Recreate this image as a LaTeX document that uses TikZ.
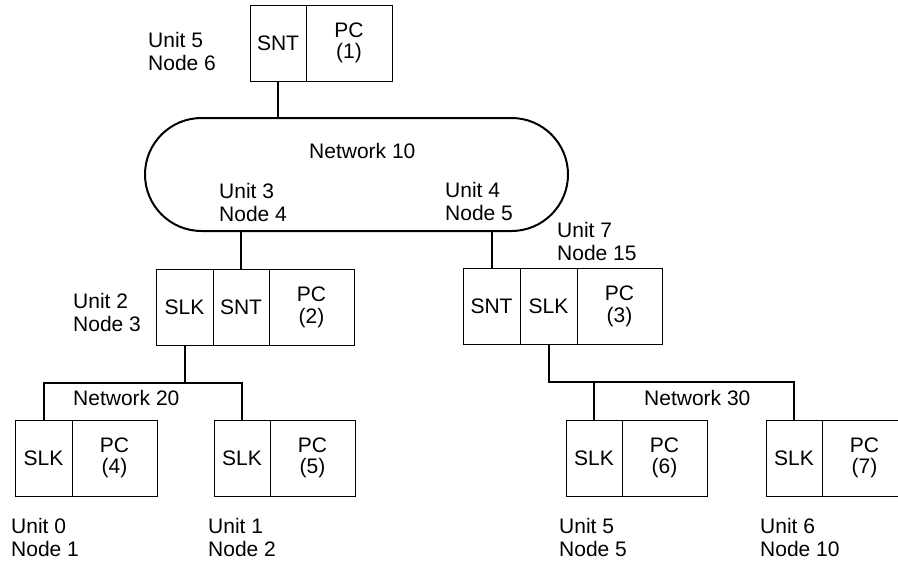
\documentclass[tikz,border=0pt]{standalone}
\usepackage{fontspec}
\setmainfont{Liberation Sans}
\usetikzlibrary{shapes.misc}
\begin{document}
\begin{tikzpicture}[x=1pt,y=-1pt,
  cell/.style={draw,line width=0.9pt,inner sep=0,minimum height=76,align=center,font=\fontsize{21}{21.5}\selectfont},
  lbl/.style={anchor=north west,inner sep=0,align=left,font=\fontsize{21}{23.5}\selectfont},
  conn/.style={line width=2pt}]
\useasboundingbox (0,0) rectangle (898,562);
% top
\node[cell,minimum width=56] (snt1) at (278,43) {SNT};
\node[cell,minimum width=86] (pc1) at (349,43) {PC\\(1)};
% network 10
\node[draw,rounded rectangle,line width=2pt,minimum width=423,minimum height=113,inner sep=0] (net10) at (356.5,174.5) {};
% box 2
\node[cell,minimum width=57] (slk2) at (184.5,307.5) {SLK};
\node[cell,minimum width=56] (snt2) at (241,307.5) {SNT};
\node[cell,minimum width=85] (pc2) at (311.5,307.5) {PC\\(2)};
% box 3
\node[cell,minimum width=57] (snt3) at (491.5,306.5) {SNT};
\node[cell,minimum width=57] (slk3) at (548.5,306.5) {SLK};
\node[cell,minimum width=85] (pc3) at (619.5,306.5) {PC\\(3)};
% bottom boxes
\node[cell,minimum width=57] (slk4) at (43.5,458) {SLK};
\node[cell,minimum width=85] (pc4) at (114.5,458) {PC\\(4)};
\node[cell,minimum width=56] (slk5) at (242,458) {SLK};
\node[cell,minimum width=85] (pc5) at (312.5,458) {PC\\(5)};
\node[cell,minimum width=56] (slk6) at (594,458) {SLK};
\node[cell,minimum width=85] (pc6) at (664.5,458) {PC\\(6)};
\node[cell,minimum width=56] (slk7) at (794,458) {SLK};
\node[cell,minimum width=85] (pc7) at (864.5,458) {PC\\(7)};
% labels
\node[lbl] (u5n6) at (148,32) {Unit 5\\Node 6};
\node[lbl] (n10) at (309,143) {Network 10};
\node[lbl] (u3n4) at (219,183) {Unit 3\\Node 4};
\node[lbl] (u4n5) at (445,182) {Unit 4\\Node 5};
\node[lbl] (u7n15) at (557,222) {Unit 7\\Node 15};
\node[lbl] (u2n3) at (73,293) {Unit 2\\Node 3};
\node[lbl] (n20) at (73,390) {Network 20};
\node[lbl] (n30) at (644,390) {Network 30};
\node[lbl] (u0n1) at (11,518) {Unit 0\\Node 1};
\node[lbl] (u1n2) at (208,518) {Unit 1\\Node 2};
\node[lbl] (u5n5) at (559,518) {Unit 5\\Node 5};
\node[lbl] (u6n10) at (760,518) {Unit 6\\Node 10};
% connectors
\draw[conn] (snt1.south) -- (snt1.south |- net10.north);
\draw[conn] (snt2.north) -- (snt2.north |- net10.south);
\draw[conn] (snt3.north) -- (snt3.north |- net10.south);
\path (slk2.south) ++(0,37) coordinate (j20);
\draw[conn] (slk2.south) -- (j20);
\draw[conn] (slk4.north) |- (j20) -| (slk5.north);
\path (slk3.south) ++(0,37) coordinate (j30);
\draw[conn] (slk3.south) -- (j30) -| (slk7.north);
\draw[conn] (slk6.north) -- (slk6.north |- j30);
\end{tikzpicture}
\end{document}
